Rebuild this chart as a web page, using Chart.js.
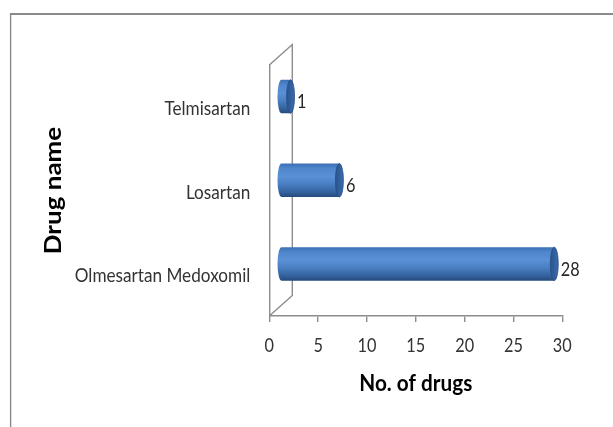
<!DOCTYPE html>
<html>
<head>
<meta charset="utf-8">
<script src="https://cdn.jsdelivr.net/npm/chart.js@4"></script>
<style>
  html, body { margin: 0; padding: 0; background: #ffffff; }
  #wrap { position: relative; width: 613px; height: 427px; }
</style>
</head>
<body>
<div id="wrap"><canvas id="c"></canvas></div>
<script>
// Drug counts per drug name
const drugNames = ['Telmisartan', 'Losartan', 'Olmesartan Medoxomil'];
const drugCounts = [1, 6, 28];
const countTicks = [0, 5, 10, 15, 20, 25, 30];
const xTitle = 'No. of drugs';
const yTitle = 'Drug name';

const FONT = "Lato, 'Open Sans', sans-serif";
const AXIS_GREY = '#8c8c8c';
const TEXT_SQUEEZE = 0.88;   // condensed lettering (horizontal squeeze of glyphs)

// depth of the 3-D wall and half-width of the cylinder end caps
const DEPTH_X = 23;
const DEPTH_Y = -20.5;
const CAP_RX = 4;

// Draw all canvas text slightly condensed, keeping its anchor point fixed.
function condenseText(ctx) {
  if (ctx.__condensed) return;
  const fill = ctx.fillText;
  ctx.fillText = function (text, x, y, maxWidth) {
    const m = this.getTransform();
    const rotated = Math.abs(m.b) > 1e-6 || Math.abs(m.c) > 1e-6;
    this.save();
    this.translate(x, y);
    if (rotated) this.scale(1, TEXT_SQUEEZE); else this.scale(TEXT_SQUEEZE, 1);
    if (maxWidth === undefined) fill.call(this, text, 0, 0);
    else fill.call(this, text, 0, 0, rotated ? maxWidth : maxWidth / TEXT_SQUEEZE);
    this.restore();
  };
  ctx.__condensed = true;
}

function drawCylinder(ctx, x0, x1, yc, h) {
  const top = yc - h / 2, bot = yc + h / 2, ry = h / 2;
  const body = ctx.createLinearGradient(0, top, 0, bot);
  body.addColorStop(0.00, '#3d6fb3');
  body.addColorStop(0.15, '#4f86cc');
  body.addColorStop(0.38, '#5a91d6');
  body.addColorStop(0.62, '#4a7ec2');
  body.addColorStop(0.85, '#34639e');
  body.addColorStop(1.00, '#244a7e');
  ctx.beginPath();
  ctx.moveTo(x1, top);
  ctx.lineTo(x0, top);
  ctx.ellipse(x0, yc, CAP_RX, ry, 0, -Math.PI / 2, Math.PI / 2, true);
  ctx.lineTo(x1, bot);
  ctx.closePath();
  ctx.fillStyle = body;
  ctx.fill();

  const cap = ctx.createLinearGradient(x1 - CAP_RX, 0, x1 + CAP_RX, 0);
  cap.addColorStop(0, '#2a538c');
  cap.addColorStop(1, '#3b6cad');
  ctx.beginPath();
  ctx.ellipse(x1, yc, CAP_RX, ry, 0, 0, Math.PI * 2);
  ctx.fillStyle = cap;
  ctx.fill();
  ctx.lineWidth = 0.8;
  ctx.strokeStyle = '#284e86';
  ctx.stroke();
}

const frame3d = {
  id: 'frame3d',
  beforeDraw(chart) {
    const ctx = chart.ctx;
    condenseText(ctx);
    // outer frame: top and left edges
    ctx.save();
    ctx.strokeStyle = '#8a8a8a';
    ctx.lineWidth = 2;
    ctx.beginPath();
    ctx.moveTo(10, 14);
    ctx.lineTo(chart.width, 14);
    ctx.stroke();
    ctx.lineWidth = 1.4;
    ctx.beginPath();
    ctx.moveTo(10.6, 13);
    ctx.lineTo(10.6, chart.height);
    ctx.stroke();
    ctx.restore();
  },
  beforeDatasetsDraw(chart) {
    // side wall of the 3-D plot area
    const { left, top, bottom } = chart.chartArea;
    const ctx = chart.ctx;
    ctx.save();
    ctx.strokeStyle = AXIS_GREY;
    ctx.lineWidth = 1.4;
    ctx.beginPath();
    ctx.moveTo(left, top);
    ctx.lineTo(left + DEPTH_X, top + DEPTH_Y);
    ctx.lineTo(left + DEPTH_X, bottom + DEPTH_Y);
    ctx.lineTo(left, bottom);
    ctx.stroke();
    ctx.restore();
  },
  afterDatasetsDraw(chart) {
    const ctx = chart.ctx;
    const meta = chart.getDatasetMeta(0);
    const values = chart.data.datasets[0].data;
    ctx.save();
    meta.data.forEach((bar, i) => {
      const p = bar.getProps(['x', 'y', 'base', 'height'], true);
      const ox = DEPTH_X / 2, oy = DEPTH_Y / 2;
      drawCylinder(ctx, p.base + ox, p.x + ox, p.y + oy, p.height);
      ctx.fillStyle = '#262626';
      ctx.font = '18.5px ' + FONT;
      ctx.textAlign = 'left';
      ctx.textBaseline = 'middle';
      ctx.fillText(String(values[i]), p.x + ox + CAP_RX + 2.5, p.y - 4.5);
    });
    ctx.restore();
  }
};

new Chart(document.getElementById('c'), {
  type: 'bar',
  data: {
    labels: drugNames,
    datasets: [{
      data: drugCounts,
      backgroundColor: 'rgba(0,0,0,0)',
      borderWidth: 0,
      barPercentage: 0.4,
      categoryPercentage: 1
    }]
  },
  options: {
    indexAxis: 'y',
    responsive: true,
    maintainAspectRatio: false,
    animation: false,
    devicePixelRatio: 1,
    layout: { padding: { left: 10, top: 65, right: 50.7, bottom: 0 } },
    plugins: { legend: { display: false }, tooltip: { enabled: false } },
    scales: {
      x: {
        type: 'linear',
        min: countTicks[0],
        max: countTicks[countTicks.length - 1],
        afterBuildTicks: s => { s.ticks = countTicks.map(v => ({ value: v })); },
        afterFit: s => { s.height = 111; },
        grid: { drawOnChartArea: false, drawTicks: true, tickLength: 6, color: AXIS_GREY, lineWidth: 1.4 },
        border: { display: true, color: AXIS_GREY, width: 1.4 },
        ticks: { color: '#333333', font: { family: FONT, size: 18.5 }, padding: 12.5, maxRotation: 0, autoSkip: false },
        title: {
          display: true, text: xTitle, color: '#000',
          font: { family: FONT, size: 23.6, weight: 'bold' },
          padding: { top: 0, bottom: 29 }
        }
      },
      y: {
        type: 'category',
        offset: true,
        afterFit: s => { s.width = 259.3; },
        grid: { drawOnChartArea: false, drawTicks: false },
        border: { display: true, color: AXIS_GREY, width: 1.4 },
        ticks: { color: '#333333', font: { family: FONT, size: 19.5 }, padding: 19, labelOffset: 2 },
        title: {
          display: true, text: yTitle, color: '#000',
          font: { family: FONT, size: 26, weight: 'bold' },
          padding: { top: 28, bottom: 0 }
        }
      }
    }
  },
  plugins: [frame3d]
});
</script>
</body>
</html>
